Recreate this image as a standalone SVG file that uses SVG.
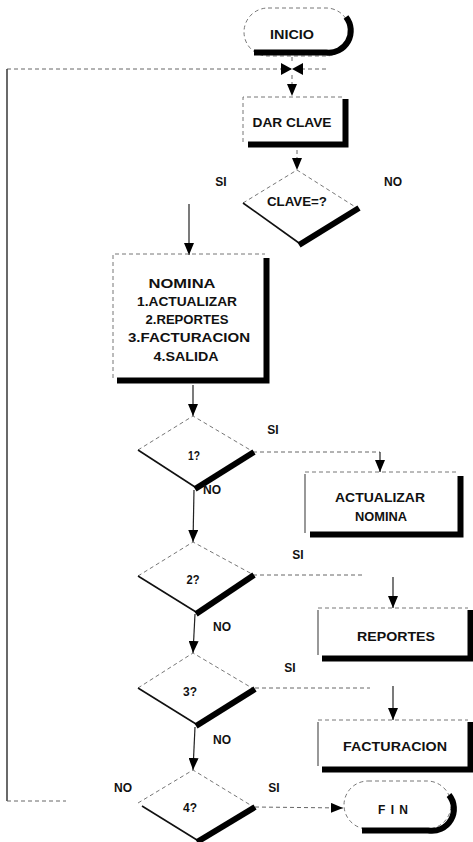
<svg xmlns="http://www.w3.org/2000/svg" width="473" height="842" viewBox="0 0 473 842">
<defs>
<marker id="ah" viewBox="0 0 12 10" markerWidth="12" markerHeight="10" refX="12" refY="5" orient="auto" markerUnits="userSpaceOnUse">
<path d="M0,0 L12,5 L0,10 z" fill="#000"/>
</marker>
<style>
.dash{stroke:#777;stroke-width:1;stroke-dasharray:4 3;fill:none}
.thin{stroke:#444;stroke-width:1.1;fill:none}
.solid{stroke:#111;stroke-width:1.6;fill:none}
.thick{stroke:#000;stroke-width:6;fill:none}
.conn{stroke:#222;stroke-width:1.2;fill:none}
.cdash{stroke:#666;stroke-width:1;stroke-dasharray:4 3;fill:none}
text{font-family:"Liberation Sans",Arial,sans-serif;font-weight:bold;font-size:12px;fill:#111;text-anchor:middle}
</style>
</defs>
<rect width="473" height="842" fill="#fff"/>

<g id="connectors">
<line class="cdash" x1="7" y1="69" x2="327" y2="69"/>
<line x1="7" y1="69" x2="7" y2="801" stroke="#444" stroke-width="1.6"/>
<line class="cdash" x1="7" y1="801" x2="66" y2="801"/>
<line class="cdash" x1="292" y1="57" x2="292" y2="63"/>
<polygon points="281,63 281,75 292,69" fill="#000"/>
<polygon points="303,63 303,75 292,69" fill="#000"/>
<line class="cdash" x1="292" y1="75" x2="292" y2="96" marker-end="url(#ah)"/>
<line class="cdash" x1="297" y1="150" x2="297" y2="170" marker-end="url(#ah)"/>
<line class="conn" x1="189" y1="204" x2="189" y2="255" marker-end="url(#ah)"/>
<line class="conn" x1="193" y1="385" x2="193" y2="416" marker-end="url(#ah)"/>
<line class="conn" x1="194" y1="490" x2="193" y2="542" marker-end="url(#ah)"/>
<line class="conn" x1="195" y1="614" x2="193" y2="653" marker-end="url(#ah)"/>
<line class="conn" x1="195" y1="727" x2="193" y2="770" marker-end="url(#ah)"/>
<polyline class="cdash" points="253,452 380,452"/>
<line class="conn" x1="380" y1="452" x2="380" y2="472" marker-end="url(#ah)"/>
<polyline class="cdash" points="253,575 362,575"/>
<line class="conn" x1="393" y1="577" x2="393" y2="608" marker-end="url(#ah)"/>
<polyline class="cdash" points="255,688 370,688"/>
<line class="conn" x1="393" y1="686" x2="393" y2="720" marker-end="url(#ah)"/>
<line class="cdash" x1="255" y1="807" x2="343" y2="808" marker-end="url(#ah)"/>
</g>

<g id="inicio">
<path class="dash" d="M268,8 H326 A24,24 0 0 1 326,56 H268 A24,24 0 0 1 268,8 Z"/>
<path class="thick" stroke-width="5" d="M254,52.5 H326 A22,22 0 0 0 346,17"/>
<text x="292" y="39" textLength="44" lengthAdjust="spacingAndGlyphs">INICIO</text>
</g>

<g id="dar_clave">
<path class="dash" d="M243,142 V97 H343"/>
<path class="thick" stroke-width="5" d="M248,144.5 H345.5 V99"/>
<text x="292" y="127" textLength="79" lengthAdjust="spacingAndGlyphs">DAR CLAVE</text>
</g>

<g id="clave">
<path class="dash" d="M243,203 L297,170 L357,208"/>
<line class="solid" x1="243" y1="203" x2="299" y2="243"/>
<line class="thick" x1="359" y1="208" x2="299" y2="245"/>
<text x="297" y="206" textLength="60" lengthAdjust="spacingAndGlyphs">CLAVE=?</text>
<text x="221" y="186">SI</text>
<text x="393" y="186">NO</text>
</g>

<g id="nomina">
<path class="dash" d="M113,378 V254 H265"/>
<path class="thick" stroke-width="5.5" d="M117,380.5 H266.5 V258"/>
<text x="182" y="288" textLength="67" lengthAdjust="spacingAndGlyphs">NOMINA</text>
<text x="187" y="306" textLength="100" lengthAdjust="spacingAndGlyphs">1.ACTUALIZAR</text>
<text x="187" y="324" textLength="83" lengthAdjust="spacingAndGlyphs">2.REPORTES</text>
<text x="189" y="342" textLength="122" lengthAdjust="spacingAndGlyphs">3.FACTURACION</text>
<text x="186" y="361" textLength="65" lengthAdjust="spacingAndGlyphs">4.SALIDA</text>
</g>

<g id="d1">
<path class="dash" d="M138,450 L193,416 L252,451"/>
<line class="solid" x1="138" y1="450" x2="195" y2="487"/>
<line class="thick" x1="254" y1="452" x2="195" y2="489"/>
<text x="194" y="460" textLength="12" lengthAdjust="spacingAndGlyphs">1?</text>
<text x="273" y="434">SI</text>
<text x="212" y="494">NO</text>
</g>

<g id="actualizar">
<path class="thin" d="M305,533 V474"/>
<path class="dash" d="M305,472 H458"/>
<path class="thick" stroke-width="5" d="M310,534.5 H460.5 V476"/>
<text x="380" y="502" textLength="90" lengthAdjust="spacingAndGlyphs">ACTUALIZAR</text>
<text x="381" y="521" textLength="52" lengthAdjust="spacingAndGlyphs">NOMINA</text>
</g>

<g id="d2">
<path class="dash" d="M138,576 L193,542 L252,574"/>
<line class="solid" x1="138" y1="576" x2="196" y2="612"/>
<line class="thick" x1="254" y1="575" x2="196" y2="614"/>
<text x="193" y="584" textLength="13" lengthAdjust="spacingAndGlyphs">2?</text>
<text x="298" y="559">SI</text>
<text x="222" y="631">NO</text>
</g>

<g id="reportes">
<path class="thin" d="M318,655 V610"/>
<path class="dash" d="M318,608 H468"/>
<path class="thick" stroke-width="5" d="M322,658.5 H470.5 V610"/>
<text x="396" y="641" textLength="78" lengthAdjust="spacingAndGlyphs">REPORTES</text>
</g>

<g id="d3">
<path class="dash" d="M138,688 L193,653 L252,688"/>
<line class="solid" x1="138" y1="688" x2="196" y2="724"/>
<line class="thick" x1="255" y1="689" x2="196" y2="726"/>
<text x="190" y="696" textLength="14" lengthAdjust="spacingAndGlyphs">3?</text>
<text x="290" y="672">SI</text>
<text x="222" y="744">NO</text>
</g>

<g id="facturacion">
<path class="thin" d="M318,766 V722"/>
<path class="dash" d="M318,720 H468"/>
<path class="thick" stroke-width="5" d="M322,769.5 H470.5 V722"/>
<text x="395" y="751" textLength="104" lengthAdjust="spacingAndGlyphs">FACTURACION</text>
</g>

<g id="d4">
<path class="dash" d="M138,803 L193,770 L252,806"/>
<line class="solid" x1="142" y1="806" x2="197" y2="840"/>
<line class="thick" x1="255" y1="807" x2="197" y2="842"/>
<text x="190" y="812" textLength="14" lengthAdjust="spacingAndGlyphs">4?</text>
<text x="123" y="792">NO</text>
<text x="274" y="792">SI</text>
</g>

<g id="fin">
<path class="dash" d="M368,781 H427 A24,24 0 0 1 427,829 H368 A24,24 0 0 1 368,781 Z"/>
<path class="thick" stroke-width="5" d="M362,830.5 H428 A22,22 0 0 0 449,795"/>
<text x="393" y="814" textLength="30" lengthAdjust="spacing">F I N</text>
</g>
</svg>
